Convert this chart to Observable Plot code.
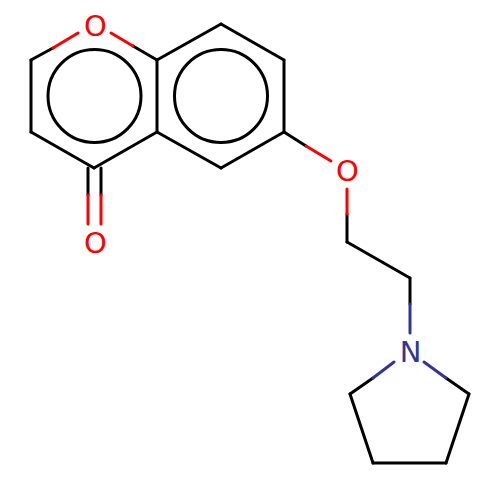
<!DOCTYPE html>
<html>
<head>
<meta charset="utf-8">
<style>html,body{margin:0;padding:0;background:#fff}svg{display:block}</style>
<script src="https://cdn.jsdelivr.net/npm/d3@7"></script>
<script src="https://cdn.jsdelivr.net/npm/@observablehq/plot@0.6"></script>
</head>
<body>
<script>
const black = "#000000", red = "#ff0000", blue = "#333399";
// bond segments: [x1, y1, x2, y2]
const blackBonds = [
  [53,48,31,60],[31,60,31,132],[31,132,94,168],[94,168,157,132],[157,132,157,60],[133,46,157,60],
  [157,60,221,24],[221,24,284,60],[284,60,284,132],[284,132,221,168],[221,168,157,132],
  [88,168,88,195],[101,168,101,195],
  [284,132,306,146],[347,214,347,242],[347,242,410,278],[410,278,410,304],
  [373,378,350,394],[350,394,373,463],[373,463,446,463],[446,463,469,394],[469,394,446,378]
];
const redBonds = [
  [78,33,53,48],[111,33,133,46],[88,195,88,224],[101,195,101,224],[306,146,331,161],[347,189,347,214]
];
const blueBonds = [
  [410,304,410,333],[394,362,373,378],[424,362,446,378]
];
const rings = [[94.5,96],[221,96]];
const atoms = [["O",95.5,26.5,red],["O",95.5,243.5,red],["O",347.5,171.5,red],["N",410.5,352.5,blue]];

const seg = (rows, color) => Plot.link(rows, {
  x1: d => d[0], y1: d => d[1], x2: d => d[2], y2: d => d[3],
  stroke: color, strokeWidth: 3, strokeLinecap: "round"
});

const chart = Plot.plot({
  width: 500, height: 500,
  margin: 0,
  x: {domain: [0, 500], range: [-0.5, 499.5], axis: null},
  y: {domain: [0, 500], range: [-0.5, 499.5], axis: null},
  marks: [
    seg(blackBonds, black), seg(redBonds, red), seg(blueBonds, blue),
    Plot.dot(rings, {x: d => d[0], y: d => d[1], r: 46.5, stroke: black, strokeWidth: 3, fill: "none"}),
    Plot.text(atoms, {
      x: d => d[1], y: d => d[2], text: d => d[0], fill: d => d[3],
      fontSize: 29, fontFamily: "DejaVu Sans", textAnchor: "middle", lineAnchor: "middle"
    })
  ]
});
document.body.append(chart);
</script>
</body>
</html>
